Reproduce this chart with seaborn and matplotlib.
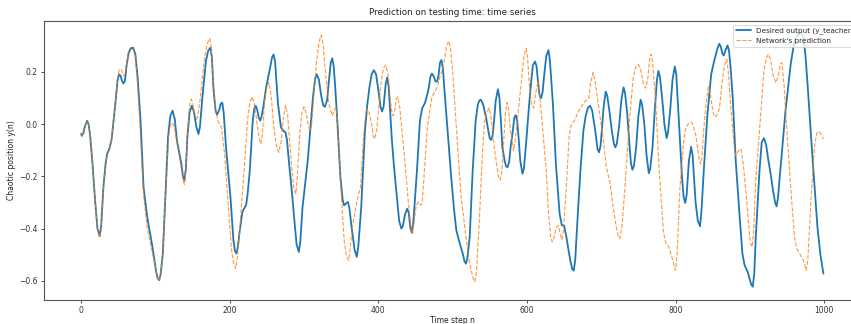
import matplotlib
matplotlib.use("Agg")
import matplotlib.pyplot as plt
import seaborn as sns

# ---- data: (time step, value) ----
teacher_points = [
    (0, -0.038), (1, -0.045), (3, -0.035), (5, -0.01), (8, 0.012), (10, 0.0), (12, -0.04),
    (15, -0.14), (19, -0.3), (22, -0.40), (25, -0.429), (27, -0.39), (30, -0.24), (33, -0.15),
    (35, -0.114), (38, -0.095), (41, -0.06), (46, 0.076), (49, 0.165), (51, 0.19), (53, 0.185),
    (55, 0.165), (57, 0.155), (59, 0.165), (61, 0.22), (64, 0.273), (67, 0.29), (70, 0.292),
    (73, 0.267), (76, 0.18), (80, 0.013), (84, -0.241), (89, -0.356), (96, -0.47),
    (101, -0.565), (103, -0.59), (105, -0.597), (107, -0.575), (110, -0.495), (114, -0.241),
    (117, -0.05), (120, 0.03), (123, 0.051), (126, 0.02), (129, -0.064), (135, -0.153),
    (137, -0.2), (139, -0.216), (141, -0.17), (143, -0.05), (146, 0.045), (149, 0.07),
    (152, 0.045), (155, -0.01), (158, -0.038), (160, -0.01), (163, 0.095), (168, 0.241),
    (171, 0.28), (174, 0.292), (176, 0.255), (178, 0.14), (181, 0.05), (183, 0.036),
    (186, 0.055), (188, 0.078), (190, 0.082), (192, 0.04), (195, -0.089), (201, -0.28),
    (205, -0.445), (207, -0.485), (209, -0.495), (211, -0.47), (213, -0.419), (217, -0.337),
    (220, -0.32), (222, -0.311), (224, -0.27), (227, -0.178), (231, 0.013), (233, 0.058),
    (235, 0.07), (237, 0.055), (239, 0.025), (241, 0.013), (243, 0.03), (246, 0.08),
    (249, 0.14), (254, 0.21), (257, 0.255), (259, 0.266), (261, 0.24), (263, 0.16),
    (265, 0.076), (269, -0.013), (272, -0.025), (275, -0.032), (277, -0.06), (280, -0.153),
    (284, -0.27), (287, -0.368), (290, -0.46), (293, -0.489), (295, -0.45), (298, -0.318),
    (305, -0.14), (309, 0.0), (312, 0.101), (315, 0.175), (317, 0.19), (320, 0.17),
    (323, 0.11), (326, 0.07), (328, 0.066), (331, 0.09), (334, 0.18), (336, 0.235),
    (338, 0.251), (340, 0.22), (342, 0.14), (344, 0.051), (349, -0.203), (352, -0.29),
    (354, -0.311), (356, -0.305), (359, -0.298), (361, -0.32), (364, -0.394), (368, -0.48),
    (371, -0.508), (373, -0.47), (377, -0.318), (382, -0.026), (385, 0.07), (388, 0.14),
    (391, 0.19), (394, 0.206), (397, 0.19), (400, 0.13), (403, 0.065), (405, 0.048),
    (407, 0.065), (410, 0.155), (412, 0.178), (414, 0.14), (418, -0.051), (421, -0.16),
    (425, -0.279), (428, -0.37), (431, -0.4), (433, -0.39), (436, -0.345), (439, -0.324),
    (441, -0.34), (443, -0.395), (445, -0.415), (447, -0.38), (449, -0.3), (452, -0.178),
    (456, 0.013), (459, 0.06), (463, 0.082), (466, 0.115), (468, 0.14), (470, 0.18),
    (472, 0.193), (474, 0.185), (477, 0.163), (479, 0.162), (481, 0.185), (483, 0.235),
    (485, 0.245), (487, 0.21), (489, 0.13), (492, 0.02), (495, -0.09), (498, -0.2),
    (502, -0.33), (505, -0.406), (508, -0.44), (511, -0.47), (514, -0.5), (516, -0.525),
    (518, -0.534), (520, -0.51), (523, -0.432), (527, -0.178), (531, 0.013), (534, 0.075),
    (536, 0.09), (538, 0.093), (541, 0.075), (543, 0.05), (545, 0.025), (548, -0.025),
    (550, -0.055), (552, -0.061), (554, -0.04), (556, 0.02), (558, 0.09), (561, 0.133),
    (563, 0.1), (565, 0.01), (567, -0.089), (570, -0.14), (572, -0.162), (574, -0.165),
    (576, -0.145), (578, -0.09), (581, -0.026), (583, 0.025), (585, 0.034), (587, 0.01),
    (589, -0.06), (591, -0.14), (594, -0.19), (596, -0.17), (599, -0.07), (603, 0.076),
    (606, 0.17), (608, 0.225), (611, 0.239), (613, 0.22), (615, 0.16), (617, 0.11),
    (619, 0.099), (621, 0.12), (623, 0.18), (626, 0.26), (629, 0.283), (631, 0.24),
    (633, 0.16), (635, 0.076), (639, -0.153), (644, -0.343), (647, -0.388), (650, -0.388),
    (653, -0.43), (656, -0.483), (659, -0.53), (661, -0.555), (663, -0.561), (665, -0.52),
    (668, -0.368), (672, -0.178), (676, -0.026), (679, 0.03), (682, 0.062), (685, 0.07),
    (688, 0.05), (690, 0.01), (692, -0.026), (695, -0.095), (697, -0.108), (699, -0.085),
    (701, -0.02), (703, 0.06), (706, 0.124), (708, 0.11), (711, 0.05), (714, -0.02),
    (717, -0.075), (719, -0.089), (721, -0.075), (724, -0.01), (727, 0.09), (730, 0.14),
    (732, 0.12), (735, 0.04), (738, -0.08), (740, -0.15), (742, -0.175), (744, -0.16),
    (747, -0.09), (750, 0.03), (753, 0.093), (755, 0.075), (758, 0.0), (761, -0.12),
    (764, -0.188), (766, -0.17), (769, -0.09), (772, 0.05), (775, 0.17), (777, 0.203),
    (779, 0.18), (782, 0.1), (785, 0.0), (788, -0.054), (790, -0.03), (793, 0.06),
    (796, 0.17), (799, 0.22), (801, 0.19), (803, 0.09), (806, -0.064), (809, -0.216),
    (811, -0.28), (813, -0.302), (815, -0.27), (818, -0.14), (821, -0.087), (823, -0.12),
    (825, -0.21), (827, -0.3), (830, -0.37), (833, -0.391), (835, -0.33), (838, -0.178),
    (843, 0.038), (848, 0.19), (852, 0.241), (856, 0.285), (859, 0.307), (861, 0.295),
    (863, 0.27), (865, 0.262), (867, 0.28), (870, 0.301), (872, 0.28), (874, 0.22),
    (877, 0.101), (881, -0.14), (886, -0.343), (890, -0.495), (893, -0.54), (897, -0.565),
    (900, -0.595), (902, -0.615), (904, -0.622), (906, -0.57), (908, -0.432), (913, -0.178),
    (916, -0.07), (919, -0.054), (922, -0.08), (925, -0.14), (928, -0.19), (931, -0.25),
    (934, -0.3), (936, -0.315), (938, -0.28), (940, -0.21), (943, -0.114), (948, 0.051),
    (955, 0.229), (960, 0.317), (963, 0.335), (966, 0.345), (969, 0.349), (972, 0.33),
    (975, 0.26), (978, 0.14), (984, -0.114), (991, -0.394), (995, -0.5), (999, -0.572),
]

prediction_points = [
    (0, -0.035), (1, -0.043), (3, -0.033), (5, -0.01), (8, 0.01), (10, -0.002), (12, -0.04),
    (15, -0.14), (19, -0.3), (22, -0.40), (25, -0.435), (27, -0.40), (30, -0.25), (33, -0.16),
    (35, -0.12), (38, -0.1), (41, -0.06), (46, 0.08), (49, 0.175), (51, 0.205), (54, 0.21),
    (57, 0.185), (59, 0.19), (61, 0.225), (64, 0.27), (67, 0.283), (70, 0.285), (73, 0.26),
    (76, 0.15), (79, 0.0), (84, -0.27), (89, -0.4), (95, -0.48), (101, -0.56), (103, -0.59),
    (105, -0.6), (107, -0.58), (110, -0.5), (114, -0.25), (118, -0.04), (120, -0.005),
    (123, 0.005), (126, -0.02), (129, -0.07), (135, -0.17), (137, -0.215), (139, -0.232),
    (141, -0.18), (143, -0.04), (146, 0.07), (148, 0.095), (150, 0.085), (152, 0.05),
    (155, 0.015), (157, 0.03), (160, 0.09), (163, 0.17), (166, 0.25), (170, 0.31),
    (173, 0.327), (175, 0.3), (177, 0.2), (180, 0.076), (184, 0.013), (189, -0.013),
    (193, -0.114), (198, -0.305), (202, -0.47), (205, -0.53), (208, -0.553), (210, -0.52),
    (213, -0.419), (220, -0.153), (224, 0.013), (227, 0.08), (230, 0.104), (233, 0.08),
    (236, 0.02), (239, -0.045), (242, -0.076), (244, -0.04), (247, 0.089), (250, 0.145),
    (253, 0.158), (256, 0.1), (260, -0.026), (263, -0.085), (266, -0.108), (269, -0.07),
    (272, 0.02), (275, 0.07), (278, 0.035), (280, -0.04), (283, -0.153), (286, -0.24),
    (289, -0.267), (291, -0.2), (294, -0.051), (297, 0.04), (300, 0.066), (303, 0.04),
    (306, -0.01), (308, -0.026), (310, -0.01), (314, 0.14), (317, 0.24), (320, 0.31),
    (323, 0.34), (326, 0.3), (328, 0.22), (331, 0.14), (334, 0.07), (338, 0.032),
    (341, 0.055), (343, 0.063), (345, 0.02), (349, -0.216), (354, -0.445), (357, -0.505),
    (360, -0.521), (362, -0.48), (365, -0.394), (371, -0.298), (376, -0.241), (380, -0.051),
    (383, 0.04), (385, 0.057), (388, 0.04), (391, 0.0), (393, -0.045), (395, -0.057),
    (398, -0.02), (403, 0.14), (406, 0.2), (408, 0.22), (410, 0.225), (413, 0.19),
    (416, 0.1), (418, 0.05), (420, 0.032), (422, 0.05), (424, 0.095), (426, 0.104),
    (429, 0.06), (434, -0.089), (441, -0.318), (444, -0.4), (446, -0.42), (448, -0.38),
    (451, -0.31), (454, -0.298), (457, -0.31), (459, -0.305), (462, -0.18), (466, -0.013),
    (472, 0.101), (479, 0.14), (488, 0.229), (492, 0.3), (495, 0.317), (497, 0.29),
    (500, 0.203), (505, -0.013), (511, -0.267), (518, -0.432), (522, -0.52), (525, -0.559),
    (528, -0.595), (530, -0.603), (532, -0.57), (536, -0.368), (540, -0.114), (543, 0.01),
    (545, 0.038), (549, 0.061), (552, 0.02), (556, -0.089), (560, -0.17), (562, -0.205),
    (564, -0.214), (566, -0.19), (569, -0.06), (571, 0.04), (573, 0.082), (575, 0.06),
    (578, -0.03), (582, -0.102), (584, -0.07), (588, 0.038), (593, 0.178), (596, 0.26),
    (599, 0.289), (601, 0.25), (603, 0.16), (606, 0.076), (609, 0.061), (612, 0.12),
    (615, 0.165), (617, 0.12), (621, -0.013), (626, -0.178), (629, -0.343), (632, -0.43),
    (634, -0.451), (636, -0.44), (639, -0.4), (642, -0.388), (645, -0.42), (647, -0.442),
    (649, -0.41), (653, -0.241), (657, -0.038), (660, 0.0), (664, 0.013), (668, 0.04),
    (672, 0.063), (678, 0.086), (683, 0.095), (686, 0.16), (689, 0.197), (692, 0.16),
    (696, 0.076), (703, -0.064), (707, -0.165), (712, -0.229), (716, -0.318), (720, -0.39),
    (723, -0.43), (725, -0.438), (728, -0.39), (732, -0.241), (738, 0.013), (743, 0.178),
    (747, 0.222), (750, 0.229), (753, 0.21), (757, 0.15), (760, 0.137), (763, 0.18),
    (765, 0.25), (767, 0.267), (769, 0.24), (773, 0.101), (778, -0.178), (784, -0.419),
    (787, -0.455), (791, -0.47), (795, -0.508), (798, -0.54), (800, -0.559), (802, -0.5),
    (806, -0.241), (811, -0.064), (814, -0.015), (817, 0.0), (820, 0.008), (822, 0.006),
    (824, -0.01), (827, -0.038), (830, -0.1), (832, -0.14), (834, -0.153), (836, -0.11),
    (838, -0.02), (841, 0.076), (844, 0.142), (846, 0.13), (849, 0.07), (852, 0.028),
    (855, 0.03), (859, 0.057), (863, 0.165), (866, 0.225), (869, 0.247), (871, 0.2),
    (874, 0.076), (879, -0.089), (881, -0.121), (884, -0.105), (888, -0.095), (891, -0.15),
    (895, -0.267), (899, -0.406), (901, -0.455), (903, -0.47), (905, -0.42), (908, -0.216),
    (914, 0.013), (919, 0.203), (922, 0.25), (925, 0.267), (928, 0.245), (931, 0.19),
    (935, 0.158), (938, 0.18), (941, 0.228), (943, 0.235), (946, 0.15), (949, 0.013),
    (955, -0.241), (960, -0.432), (963, -0.475), (967, -0.495), (972, -0.521), (976, -0.559),
    (978, -0.52), (982, -0.305), (987, -0.089), (990, -0.035), (993, -0.028), (996, -0.04),
    (999, -0.057),
]

teacher_t = [p[0] for p in teacher_points]
teacher_y = [p[1] for p in teacher_points]
pred_t = [p[0] for p in prediction_points]
pred_y = [p[1] for p in prediction_points]

label_teacher = "Desired output (y_teacher)"
label_pred = "Network's prediction"
title = "Prediction on testing time: time series"
xlabel = "Time step n"
ylabel = "Chaotic position y(n)"
xticks = [0, 200, 400, 600, 800, 1000]
yticks = [-0.6, -0.4, -0.2, 0.0, 0.2]

sns.set_style("ticks")
plt.rcParams["font.family"] = ["DejaVu Sans"]

fig = plt.figure(figsize=(8.51, 3.24), dpi=100)
ax = fig.add_axes([44 / 851, 24 / 324, 816.5 / 851, 279 / 324])

sns.lineplot(x=teacher_t, y=teacher_y, ax=ax, color="#1f77b4", linewidth=1.3,
             label=label_teacher)
sns.lineplot(x=pred_t, y=pred_y, ax=ax, color="#ff7f0e", linewidth=0.8, alpha=0.8,
             linestyle="--", label=label_pred)

ax.set_xlim(-49.95, 1048.95)
ax.set_ylim(-0.673, 0.394)
ax.set_xticks(xticks)
ax.set_yticks(yticks)
ax.tick_params(labelsize=5.5, length=2.5, width=0.6, colors="#333333", pad=2)
for s in ax.spines.values():
    s.set_color("#555555")
    s.set_linewidth(0.8)
ax.set_title(title, fontsize=6.3, color="#222222", pad=4)
ax.set_xlabel(xlabel, fontsize=5.5, color="#222222", labelpad=0.5)
ax.set_ylabel(ylabel, fontsize=5.5, color="#222222", labelpad=2)
leg = ax.legend(loc="upper right", fontsize=5.2, frameon=True, framealpha=0.8,
                borderpad=0.4, handlelength=2.0)
leg.get_frame().set_linewidth(0.6)

fig.savefig("out.png", dpi=100)
